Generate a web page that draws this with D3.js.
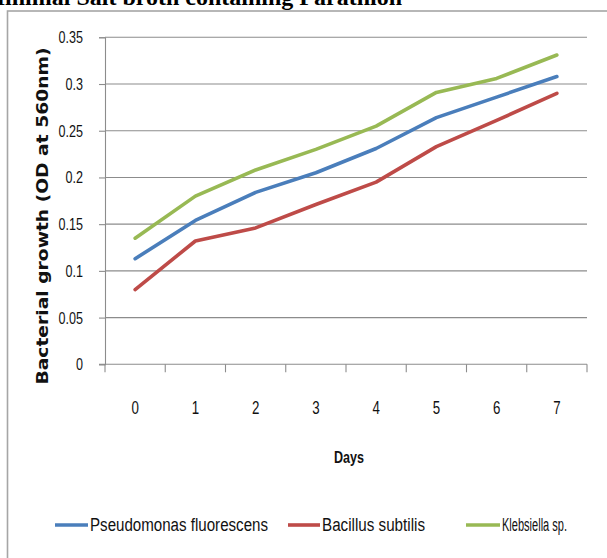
<!DOCTYPE html>
<html>
<head>
<meta charset="utf-8">
<script src="https://cdn.jsdelivr.net/npm/d3@7"></script>
<style>
  html, body { margin: 0; padding: 0; background: #fff; overflow: hidden; }
  svg { display: block; }
  .narrow { font-family: "Liberation Sans", Arial, sans-serif; fill: #111; }
</style>
</head>
<body>
<svg id="chart" width="607" height="558"></svg>
<script>
// Days of incubation
const days = ["0", "1", "2", "3", "4", "5", "6", "7"];
// Optical density readings (OD at 560 nm) per isolate
const pseudomonas = [0.113, 0.154, 0.184, 0.205, 0.231, 0.264, 0.286, 0.308];
const bacillus    = [0.080, 0.132, 0.146, 0.171, 0.195, 0.233, 0.261, 0.290];
const klebsiella  = [0.135, 0.180, 0.208, 0.230, 0.255, 0.291, 0.306, 0.331];
const seriesNames = ["Pseudomonas fluorescens", "Bacillus subtilis", "Klebsiella sp."];
const yTicks = [0, 0.05, 0.1, 0.15, 0.2, 0.25, 0.3, 0.35];
const yTickLabels = ["0", "0.05", "0.1", "0.15", "0.2", "0.25", "0.3", "0.35"];

const series = [
  { name: seriesNames[0], values: pseudomonas, color: "#4a7ebb" },
  { name: seriesNames[1], values: bacillus,    color: "#be4b48" },
  { name: seriesNames[2], values: klebsiella,  color: "#98b954" }
];

const svg = d3.select("#chart");
const plot = { left: 105, right: 587, top: 37.3, bottom: 364.3 };
const squeeze = 0.74; // horizontal condensing for the narrow label face

const x = d3.scaleBand().domain(days).range([plot.left, plot.right]).padding(0);
const y = d3.scaleLinear().domain([0, 0.35]).range([plot.bottom, plot.top]);

// Places condensed text at (px, py)
function narrowText(parent, px, py, str, size, anchor, bold) {
  return parent.append("text")
    .attr("class", "narrow")
    .attr("transform", `translate(${px},${py}) scale(${squeeze},1)`)
    .attr("text-anchor", anchor)
    .attr("font-size", size)
    .attr("font-weight", bold ? "bold" : "normal")
    .text(str);
}

// Caption line, clipped by the top of the page
svg.append("text")
  .attr("x", 402).attr("y", 5)
  .attr("text-anchor", "end")
  .attr("font-family", "'Liberation Serif', 'Times New Roman', serif")
  .attr("font-weight", "bold")
  .attr("font-size", 24)
  .attr("fill", "#000")
  .text("Minimal Salt broth containing Parathion");

// Chart frame
svg.append("rect")
  .attr("x", 7.5).attr("y", 11)
  .attr("width", 640).attr("height", 600)
  .attr("fill", "none")
  .attr("stroke", "#a6a6a6")
  .attr("stroke-width", 1.6);

// Horizontal gridlines
svg.append("g")
  .selectAll("line")
  .data(yTicks.filter(d => d > 0))
  .join("line")
  .attr("x1", plot.left).attr("x2", plot.right)
  .attr("y1", d => y(d)).attr("y2", d => y(d))
  .attr("stroke", "#8c8c8c")
  .attr("stroke-width", 1.1);

// Y axis
const yAxis = svg.append("g")
  .attr("transform", `translate(${plot.left},0)`)
  .call(d3.axisLeft(y).tickValues(yTicks).tickSize(6).tickFormat(""));
yAxis.select(".domain").attr("stroke", "#8c8c8c").attr("stroke-width", 1.1);
yAxis.selectAll(".tick line").attr("stroke", "#8c8c8c").attr("stroke-width", 1.1);
const yLab = svg.append("g");
yTicks.forEach((v, i) => narrowText(yLab, 83, y(v) + 6, yTickLabels[i], 17, "end", false));

// X axis with ticks on category boundaries
const xAxis = svg.append("g")
  .attr("transform", `translate(0,${plot.bottom})`)
  .call(d3.axisBottom(x).tickSize(0).tickFormat(""));
xAxis.select(".domain").remove();
xAxis.append("line")
  .attr("x1", plot.left - 6).attr("x2", plot.right)
  .attr("stroke", "#8c8c8c").attr("stroke-width", 1.1);
const boundaries = days.map(d => x(d)).concat([x(days[days.length - 1]) + x.bandwidth()]);
xAxis.selectAll(".bound")
  .data(boundaries)
  .join("line")
  .attr("class", "bound")
  .attr("x1", d => d).attr("x2", d => d)
  .attr("y1", 0).attr("y2", 8)
  .attr("stroke", "#8c8c8c").attr("stroke-width", 1.1);

// Day labels
const xLab = svg.append("g");
days.forEach(d => narrowText(xLab, x(d) + x.bandwidth() / 2, 414, d, 18, "middle", false));

// Axis titles
narrowText(svg, 349, 463, "Days", 17, "middle", true);

svg.append("text")
  .attr("transform", "translate(48,216) rotate(-90)")
  .attr("text-anchor", "middle")
  .attr("font-family", "'DejaVu Sans', Verdana, sans-serif")
  .attr("font-weight", "bold")
  .attr("font-size", 15)
  .attr("fill", "#111")
  .attr("textLength", 337)
  .attr("lengthAdjust", "spacingAndGlyphs")
  .text("Bacterial growth (OD at 560nm)");

// Series lines
const line = d3.line()
  .x((d, i) => x(days[i]) + x.bandwidth() / 2)
  .y(d => y(d));

svg.append("g")
  .selectAll("path")
  .data(series)
  .join("path")
  .attr("d", d => line(d.values))
  .attr("fill", "none")
  .attr("stroke", d => d.color)
  .attr("stroke-width", 3.6)
  .attr("stroke-linejoin", "round")
  .attr("stroke-linecap", "round");

// Legend
const legendItems = [
  { x0: 55, x1: 88, tx: 90, tw: 178 },
  { x0: 288, x1: 320, tx: 322, tw: 103 },
  { x0: 466, x1: 500, tx: 502, tw: 65 }
];
const legend = svg.append("g");
series.forEach((s, i) => {
  const it = legendItems[i];
  legend.append("line")
    .attr("x1", it.x0).attr("x2", it.x1)
    .attr("y1", 525).attr("y2", 525)
    .attr("stroke", s.color)
    .attr("stroke-width", 3.6);
  legend.append("text")
    .attr("class", "narrow")
    .attr("x", it.tx).attr("y", 531)
    .attr("font-size", 18)
    .attr("textLength", it.tw)
    .attr("lengthAdjust", "spacingAndGlyphs")
    .text(s.name);
});
</script>
</body>
</html>
